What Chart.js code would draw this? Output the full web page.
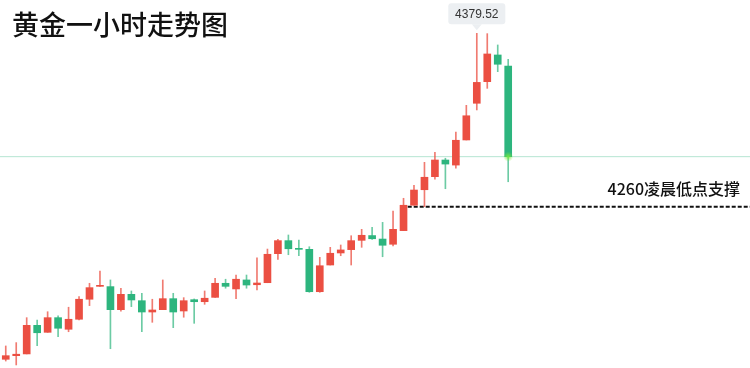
<!DOCTYPE html>
<html>
<head>
<meta charset="utf-8">
<script src="https://cdn.jsdelivr.net/npm/chart.js@4/dist/chart.umd.min.js"></script>
<style>
  html, body { margin: 0; padding: 0; background: #fff; }
</style>
</head>
<body>
<canvas id="myChart" width="750" height="368"></canvas>
<script>
// 黄金 1h candles
var opens  = [4154.8, 4157.3, 4158.5, 4178.2, 4173.4, 4183.5, 4175.5, 4182.4, 4196.2, 4205.1,
              4204.9, 4189.0, 4199.6, 4195.2, 4187.4, 4189.0, 4196.6, 4188.1, 4195.9, 4194.5,
              4197.5, 4207.2, 4203.3, 4209.5, 4206.2, 4207.6, 4227.6, 4236.6, 4231.3, 4230.6,
              4201.4, 4219.8, 4228.1, 4230.4, 4236.8, 4240.1, 4237.7, 4234.1, 4243.5, 4261.0,
              4271.7, 4280.7, 4292.2, 4288.7, 4306.0, 4331.3, 4346.2, 4364.6, 4357.0];
var closes = [4157.3, 4158.3, 4178.2, 4173.1, 4183.5, 4176.2, 4182.4, 4196.2, 4204.2, 4205.8,
              4189.0, 4199.6, 4195.7, 4187.4, 4188.8, 4196.6, 4187.4, 4195.2, 4194.5, 4196.9,
              4207.2, 4205.1, 4210.0, 4206.0, 4207.4, 4227.2, 4236.6, 4231.0, 4230.6, 4201.4,
              4219.3, 4227.9, 4230.2, 4236.6, 4240.3, 4237.9, 4233.4, 4244.4, 4261.0, 4271.5,
              4280.3, 4292.2, 4289.4, 4305.8, 4322.7, 4345.7, 4365.3, 4358.2, 4294.5];
var highs  = [4164.0, 4166.3, 4183.5, 4181.9, 4187.6, 4184.7, 4190.7, 4198.0, 4207.2, 4215.7,
              4209.5, 4203.8, 4201.9, 4200.3, 4196.2, 4209.5, 4200.3, 4197.3, 4196.4, 4201.9,
              4210.6, 4210.0, 4212.9, 4212.9, 4224.8, 4230.8, 4237.5, 4240.5, 4237.0, 4232.4,
              4225.1, 4232.0, 4233.6, 4240.0, 4244.4, 4245.7, 4249.2, 4257.0, 4265.8, 4274.8,
              4290.6, 4297.5, 4293.4, 4311.5, 4329.9, 4379.52, 4379.3, 4371.5, 4361.6];
var lows   = [4153.6, 4150.9, 4158.5, 4164.2, 4173.4, 4170.4, 4173.8, 4181.9, 4191.8, 4205.1,
              4162.1, 4187.9, 4191.1, 4173.8, 4180.3, 4189.0, 4176.6, 4183.8, 4179.6, 4192.7,
              4197.5, 4203.8, 4196.6, 4203.8, 4202.6, 4207.6, 4223.7, 4226.9, 4226.2, 4201.0,
              4201.0, 4219.8, 4226.2, 4219.8, 4232.0, 4237.5, 4225.5, 4232.9, 4243.5, 4261.0,
              4260.0, 4278.9, 4272.4, 4286.5, 4306.0, 4326.7, 4341.6, 4353.1, 4277.2];

var titleText = '黄金一小时走势图';
var supportLevel = 4260;
var supportText = '4260凌晨低点支撑';
var supportFrom = 38.4;

var xMin = -0.55, xMax = 71.1;
var yMin = 4148.8, yMax = 4402.5;

var upColor = '#eb4f42';
var downColor = '#2db57e';
var upWick = 'rgba(235,79,66,0.75)';
var downWick = 'rgba(45,181,126,0.7)';

var bodies = [], wicks = [], colors = [], wickColors = [];
for (var i = 0; i < opens.length; i++) {
  var up = closes[i] >= opens[i];
  bodies.push({ x: i, y: [opens[i], closes[i]] });
  wicks.push({ x: i, y: [lows[i], highs[i]] });
  colors.push(up ? upColor : downColor);
  wickColors.push(up ? upWick : downWick);
}
var lastClose = closes[closes.length - 1];

var labelsPlugin = {
  id: 'labels',
  afterDatasetsDraw: function (chart) {
    var ctx = chart.ctx;
    var sx = chart.scales.x, sy = chart.scales.y;

    // glow at last close
    var lx = sx.getPixelForValue(closes.length - 1), ly = sy.getPixelForValue(lastClose);
    var g = ctx.createRadialGradient(lx, ly, 0, lx, ly, 5);
    g.addColorStop(0, 'rgba(120,235,60,0.9)');
    g.addColorStop(1, 'rgba(120,235,60,0)');
    ctx.save();
    ctx.fillStyle = g;
    ctx.beginPath();
    ctx.arc(lx, ly, 5, 0, Math.PI * 2);
    ctx.fill();
    ctx.restore();

    // peak price box
    var top = 0;
    for (var i = 1; i < highs.length; i++) if (highs[i] > highs[top]) top = i;
    var px = sx.getPixelForValue(top), py = sy.getPixelForValue(highs[top]);
    var bw = 57, bh = 21, bx = px - bw / 2, by = py - 30;
    ctx.save();
    ctx.fillStyle = '#eceff2';
    ctx.beginPath();
    ctx.roundRect(bx, by, bw, bh, 3);
    ctx.fill();
    ctx.beginPath();
    ctx.moveTo(px - 5, by + bh);
    ctx.lineTo(px + 5, by + bh);
    ctx.lineTo(px, by + bh + 6);
    ctx.closePath();
    ctx.fill();
    ctx.fillStyle = '#333';
    ctx.font = '12px "Liberation Sans", Arial, sans-serif';
    ctx.textAlign = 'center';
    ctx.textBaseline = 'middle';
    ctx.fillText(highs[top].toFixed(2), px, by + bh / 2 + 1);
    ctx.restore();

    // support text
    var sp = sy.getPixelForValue(supportLevel);
    ctx.save();
    ctx.fillStyle = '#111';
    ctx.font = '500 16px "Noto Sans CJK SC", sans-serif';
    ctx.textAlign = 'right';
    ctx.textBaseline = 'middle';
    ctx.fillText(supportText, 740, sp - 18);
    ctx.restore();

    // title
    ctx.save();
    ctx.fillStyle = '#111';
    ctx.font = '500 27px "Noto Sans CJK SC", sans-serif';
    ctx.textAlign = 'left';
    ctx.textBaseline = 'middle';
    ctx.fillText(titleText, 12, 25);
    ctx.restore();
  }
};

var ctx = document.getElementById('myChart');

var myChart = new Chart(ctx, {
  type: 'bar',
  data: {
    datasets: [
      {
        label: 'body',
        data: bodies,
        backgroundColor: colors,
        borderWidth: 0,
        borderSkipped: false,
        barThickness: 7,
        minBarLength: 1,
        grouped: false,
        order: 0
      },
      {
        label: 'wick',
        data: wicks,
        backgroundColor: wickColors,
        borderWidth: 0,
        borderSkipped: false,
        barThickness: 1,
        grouped: false,
        order: 1
      },
      {
        type: 'line',
        label: 'last',
        data: [{ x: xMin, y: lastClose }, { x: xMax, y: lastClose }],
        borderColor: 'rgba(46,181,126,0.35)',
        borderWidth: 1,
        pointRadius: 0,
        order: 3
      },
      {
        type: 'line',
        label: 'support',
        data: [{ x: supportFrom, y: supportLevel }, { x: xMax, y: supportLevel }],
        borderColor: '#111',
        borderWidth: 2,
        borderDash: [4, 2],
        pointRadius: 0,
        order: 2
      }
    ]
  },
  options: {
    responsive: false,
    animation: false,
    layout: { padding: 0 },
    plugins: {
      legend: { display: false },
      tooltip: { enabled: false }
    },
    scales: {
      x: { type: 'linear', min: xMin, max: xMax, display: false, offset: false },
      y: { min: yMin, max: yMax, display: false }
    }
  },
  plugins: [labelsPlugin]
});
</script>
</body>
</html>
